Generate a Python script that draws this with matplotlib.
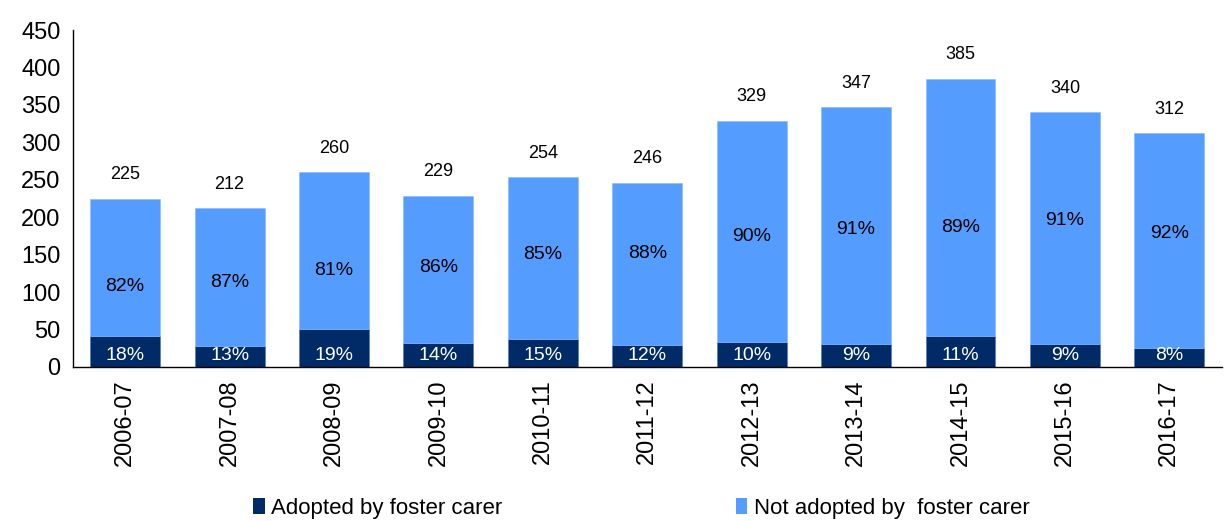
import numpy as np
from matplotlib import pyplot as plt
from matplotlib.patches import Patch

years = ['2006-07', '2007-08', '2008-09', '2009-10', '2010-11', '2011-12',
         '2012-13', '2013-14', '2014-15', '2015-16', '2016-17']
totals = [225, 212, 260, 229, 254, 246, 329, 347, 385, 340, 312]
adopted = [41, 28, 51, 32, 38, 30, 33, 31, 42, 31, 25]
pct_adopted = ['18%', '13%', '19%', '14%', '15%', '12%', '10%', '9%', '11%', '9%', '8%']
pct_not = ['82%', '87%', '81%', '86%', '85%', '88%', '90%', '91%', '89%', '91%', '92%']
# heights where the "not adopted" share label sits
pct_not_y = [107, 113, 129, 133, 150, 152, 174, 183, 186, 195, 178]

DARK = '#002B66'
LIGHT = '#559CFF'

plt.rcParams['font.family'] = ['Liberation Sans', 'DejaVu Sans']

fig = plt.figure(figsize=(12.24, 5.21), dpi=100)
ax = fig.add_axes([0.0596, 0.2956, 0.9384, 0.6468])

x = np.arange(len(years))
not_adopted = [t - a for t, a in zip(totals, adopted)]
ax.bar(x, adopted, width=0.67, color=DARK, edgecolor='#4477BB', linewidth=0.4)
ax.bar(x, not_adopted, bottom=adopted, width=0.67, color=LIGHT,
       edgecolor='#88B8FF', linewidth=0.4)

for i in x:
    ax.annotate(str(totals[i]), xy=(i, totals[i]), xytext=(0, 11),
                textcoords='offset points', ha='center', va='bottom', fontsize=13)
    ax.text(i, 16, pct_adopted[i], ha='center', va='center', color='white', fontsize=14)
    ax.text(i, pct_not_y[i], pct_not[i], ha='center', va='center', color='black', fontsize=14)

ax.set_xlim(-0.5, len(years) - 0.5)
ax.set_ylim(0, 450)
ax.set_yticks(range(0, 451, 50))
ax.set_xticks(x)
ax.set_xticklabels(years, rotation=90, fontsize=17)
ax.tick_params(axis='y', labelsize=17, length=0, pad=9)
ax.tick_params(axis='x', length=0, pad=9)
for s in ['top', 'right']:
    ax.spines[s].set_visible(False)
for s in ['left', 'bottom']:
    ax.spines[s].set_color('black')
    ax.spines[s].set_linewidth(1.0)

handles = [Patch(facecolor=DARK), Patch(facecolor=LIGHT)]
labels = ['Adopted by foster carer', 'Not adopted by  foster carer']
fig.legend(handles, labels, loc='lower center', bbox_to_anchor=(0.524, -0.034), ncol=2,
           frameon=False, fontsize=16, handlelength=0.5, handleheight=0.75,
           handletextpad=0.3, columnspacing=10.5)

plt.savefig('out.png', dpi=100)
